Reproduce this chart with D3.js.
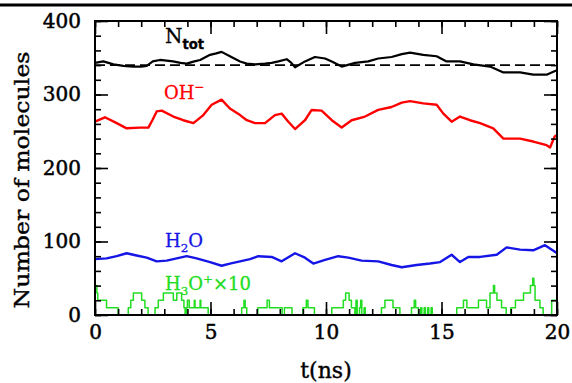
<!DOCTYPE html>
<html>
<head>
<meta charset="utf-8">
<script src="https://cdn.jsdelivr.net/npm/d3@7"></script>
<style>
  body { margin: 0; background: #fff; }
  text { font-family: "DejaVu Serif", serif; }
</style>
</head>
<body>
<svg id="chart" width="572" height="383"></svg>
<script>
// ---- data ----
// N_tot (black)
var totT = [0, 0.36, 0.8, 1.23, 1.65, 2.0, 2.24, 2.5, 2.81, 3.1, 3.38, 3.7, 3.97, 4.3, 4.55, 4.98, 5.25, 5.48, 5.84, 6.28, 6.57, 6.93, 7.36, 7.65, 7.94, 8.3, 8.5, 8.66, 9.09, 9.52, 9.96, 10.25, 10.68, 11.26, 11.83, 12.26, 12.84, 13.28, 13.64, 14.21, 14.79, 15.22, 15.8, 16.38, 17.1, 17.68, 18.4, 18.97, 19.55, 19.84, 20];
var totV = [343, 345, 341, 339, 338, 338, 339, 345, 347, 346, 345, 343, 342, 345, 347, 354, 356, 358, 352, 345, 342, 341, 342, 343, 345, 348, 343, 337, 345, 351, 349, 345, 338, 343, 345, 349, 351, 355, 357, 354, 352, 345, 345, 341, 338, 330, 330, 327, 327, 331, 333];

// OH- (red)
var ohT = [0, 0.43, 0.94, 1.37, 1.95, 2.31, 2.5, 2.67, 2.89, 3.39, 3.82, 4.26, 4.69, 5.05, 5.48, 5.84, 6.28, 6.57, 6.93, 7.36, 7.79, 8.08, 8.37, 8.66, 9.09, 9.38, 9.81, 10.25, 10.68, 11.11, 11.69, 12.26, 12.84, 13.28, 13.64, 14.21, 14.79, 15.08, 15.44, 15.8, 16.23, 16.67, 17.24, 17.68, 18.4, 18.97, 19.55, 19.7, 19.9, 20];
var ohV = [263, 269, 261, 254, 255, 255, 266, 277, 278, 270, 265, 261, 272, 286, 293, 281, 272, 265, 261, 261, 272, 274, 263, 253, 265, 279, 278, 265, 255, 265, 270, 279, 283, 289, 291, 288, 286, 274, 263, 270, 265, 261, 254, 240, 240, 236, 231, 228, 243, 245];

// H2O (blue)
var h2oT = [0, 0.5, 0.94, 1.37, 1.8, 2.24, 2.67, 3.1, 3.54, 3.97, 4.4, 4.98, 5.48, 5.84, 6.28, 6.71, 7.07, 7.65, 8.08, 8.66, 9.09, 9.45, 9.96, 10.53, 10.97, 11.54, 12.26, 12.84, 13.28, 13.92, 14.5, 14.94, 15.44, 15.8, 16.16, 16.67, 17.39, 17.82, 18.4, 18.97, 19.48, 19.91, 20];
var h2oV = [76, 77, 80, 84, 81, 78, 73, 74, 77, 80, 77, 72, 67, 70, 73, 76, 80, 79, 73, 84, 78, 70, 75, 80, 78, 74, 73, 68, 65, 68, 70, 72, 82, 72, 79, 79, 82, 92, 89, 88, 95, 86, 84];

// H3O+ x 10 (green, steps)
var h3oT = [0, 0.08, 0.12, 0.5, 1.0, 1.44, 1.55, 1.66, 2.02, 2.16, 2.3, 2.6, 2.74, 2.96, 3.39, 3.54, 3.75, 3.85, 3.9, 3.95, 4.0, 4.08, 4.3, 4.33, 4.55, 4.58, 4.9, 6.35, 6.45, 6.5, 6.57, 7.05, 7.45, 7.55, 8.1, 8.2, 8.53, 9.0, 9.15, 9.22, 9.5, 10.25, 10.75, 10.85, 11.0, 11.1, 11.25, 11.3, 11.35, 11.45, 11.5, 11.55, 11.65, 11.7, 12.4, 12.55, 12.9, 13.2, 13.7, 13.82, 13.88, 14.0, 14.1, 14.15, 14.25, 14.3, 14.4, 14.45, 14.55, 14.6, 15.66, 15.95, 16.1, 16.6, 16.95, 17.1, 17.25, 17.3, 17.4, 17.6, 17.8, 18.0, 18.2, 18.55, 18.85, 18.95, 19.0, 19.05, 19.26, 19.4, 19.77, 20];
var h3oV = [40, 30, 20, 10, 0, 10, 20, 30, 20, 10, 0, 10, 20, 30, 20, 30, 20, 10, 0, 10, 20, 10, 20, 10, 20, 10, 0, 10, 20, 10, 0, 10, 20, 10, 0, 10, 0, 10, 20, 10, 0, 10, 20, 30, 20, 10, 0, 20, 0, 10, 20, 0, 10, 0, 10, 20, 10, 0, 10, 20, 10, 0, 10, 0, 10, 0, 10, 0, 10, 0, 10, 20, 10, 20, 10, 30, 40, 30, 20, 10, 0, 10, 20, 30, 40, 50, 40, 20, 10, 0, 20, 20];

var refLevel = 340;   // dashed line
var xMajor = [0, 5, 10, 15, 20];
var yMajor = [0, 100, 200, 300, 400];

// ---- layout ----
var margin = {top: 21, right: 15, bottom: 68, left: 95},
    width = 572 - margin.left - margin.right,
    height = 383 - margin.top - margin.bottom;

var svg = d3.select("#chart");

// rule across the top of the page
svg.append("line")
  .attr("x1", 0).attr("x2", 572)
  .attr("y1", 5).attr("y2", 5)
  .attr("stroke", "#000").attr("stroke-width", 3);

var g = svg.append("g").attr("transform", "translate(" + margin.left + "," + margin.top + ")");

var x = d3.scaleLinear().domain([0, 20]).range([0, width]);
var y = d3.scaleLinear().domain([0, 400]).range([height, 0]);

function zipped(ts, vs) { return ts.map(function(t, i) { return [t, vs[i]]; }); }

var line = d3.line().x(function(d) { return x(d[0]); }).y(function(d) { return y(d[1]); });
var stepLine = d3.line().curve(d3.curveStepAfter)
  .x(function(d) { return x(d[0]); }).y(function(d) { return y(d[1]); });

// dashed reference
g.append("line")
  .attr("x1", x(0)).attr("x2", x(20))
  .attr("y1", y(refLevel)).attr("y2", y(refLevel))
  .attr("stroke", "#000").attr("stroke-width", 1.6)
  .attr("stroke-dasharray", "10,5");

var series = [
  {t: h3oT, v: h3oV, color: "#22dd22", step: true, w: 1.5},
  {t: h2oT, v: h2oV, color: "#1515e6", w: 2.4},
  {t: ohT,  v: ohV,  color: "#ff0000", w: 2.4},
  {t: totT, v: totV, color: "#000000", w: 2.2}
];
series.forEach(function(s) {
  g.append("path")
    .datum(zipped(s.t, s.v))
    .attr("fill", "none")
    .attr("stroke", s.color)
    .attr("stroke-width", s.w)
    .attr("stroke-linejoin", "round")
    .attr("d", s.step ? stepLine : line);
});

// ---- axes: ticks point inward, on all four sides ----
function tidy(sel) {
  sel.select(".domain").remove();
  sel.selectAll("line").attr("stroke", "#000").attr("stroke-width", 1.6);
}
function heavy(sel) {
  sel.attr("font-size", 20).attr("fill", "#000").attr("font-family", "DejaVu Serif")
    .attr("stroke", "#000").attr("stroke-width", 0.5);
}
var minorX = d3.range(0, 21, 1), minorY = d3.range(0, 401, 20);

g.append("g").attr("transform", "translate(0," + height + ")")
  .call(d3.axisBottom(x).tickValues(minorX).tickSize(-6).tickFormat("")).call(tidy);
g.append("g").attr("transform", "translate(0," + height + ")")
  .call(d3.axisBottom(x).tickValues(xMajor).tickSize(-13).tickPadding(10).tickFormat(d3.format("d")))
  .call(tidy)
  .selectAll("text").call(heavy);
g.append("g").call(d3.axisTop(x).tickValues(minorX).tickSize(-6).tickFormat("")).call(tidy);
g.append("g").call(d3.axisTop(x).tickValues(xMajor).tickSize(-13).tickFormat("")).call(tidy);

g.append("g").call(d3.axisLeft(y).tickValues(minorY).tickSize(-6).tickFormat("")).call(tidy);
g.append("g")
  .call(d3.axisLeft(y).tickValues(yMajor).tickSize(-13).tickPadding(14).tickFormat(d3.format("d")))
  .call(tidy)
  .selectAll("text").call(heavy);
g.append("g").attr("transform", "translate(" + width + ",0)")
  .call(d3.axisRight(y).tickValues(minorY).tickSize(-6).tickFormat("")).call(tidy);
g.append("g").attr("transform", "translate(" + width + ",0)")
  .call(d3.axisRight(y).tickValues(yMajor).tickSize(-13).tickFormat("")).call(tidy);

// frame
g.append("rect")
  .attr("width", width).attr("height", height)
  .attr("fill", "none").attr("stroke", "#000").attr("stroke-width", 2);

// axis titles
svg.append("text")
  .attr("transform", "translate(29," + (margin.top + height / 2 + 12) + ") rotate(-90)")
  .attr("text-anchor", "middle")
  .attr("font-size", 21)
  .attr("stroke", "#000").attr("stroke-width", 0.4)
  .attr("textLength", 257).attr("lengthAdjust", "spacingAndGlyphs")
  .text("Number of molecules");

svg.append("text")
  .attr("x", margin.left + x(10)).attr("y", 378)
  .attr("text-anchor", "middle")
  .attr("font-size", 22)
  .attr("stroke", "#000").attr("stroke-width", 0.4)
  .text("t(ns)");

// ---- in-plot labels ----
// parts: s = text, dy = baseline shift, small = reduced size, fam = other face
function label(px, py, color, size, parts) {
  var t = g.append("text").attr("x", px).attr("y", py).attr("fill", color)
    .attr("font-size", size).attr("stroke", color).attr("stroke-width", 0.3);
  parts.forEach(function(p) {
    var ts = t.append("tspan").text(p.s);
    if (p.dy) ts.attr("dy", p.dy);
    if (p.small) ts.attr("font-size", size * 0.66);
    if (p.fam) ts.attr("font-family", p.fam).attr("font-weight", "bold");
  });
}
label(70, 22, "#000", 20, [{s: "N"}, {s: "tot", dy: 6, small: true, fam: "DejaVu Sans"}]);
label(69, 78, "#ff0000", 18, [{s: "OH"}, {s: "\u2212", dy: -8, small: true}]);
label(70, 226, "#1515e6", 18, [{s: "H"}, {s: "2", dy: 5, small: true}, {s: "O", dy: -5}]);
label(70, 269, "#22dd22", 18, [{s: "H"}, {s: "3", dy: 5, small: true}, {s: "O", dy: -5}, {s: "+", dy: -7, small: true}, {s: "\u00d710", dy: 7}]);
</script>
</body>
</html>
